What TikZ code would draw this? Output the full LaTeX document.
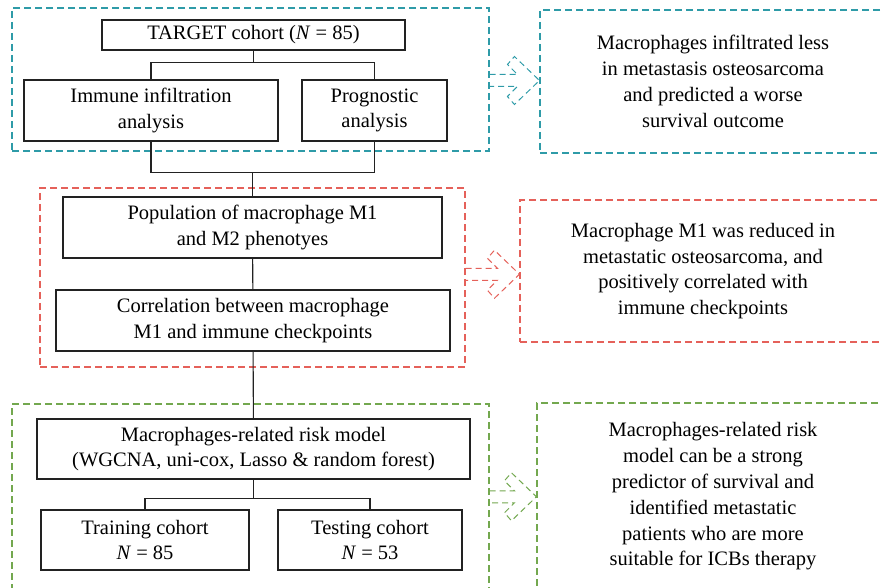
\documentclass[tikz,border=0pt]{standalone}
\usepackage{fontspec}
\setmainfont{Liberation Serif}
\usepackage{xcolor}
\usepackage{tikz}
\usetikzlibrary{calc,positioning}
\definecolor{lagoon}{HTML}{2E9BA8}
\definecolor{coral}{HTML}{E5615A}
\definecolor{moss}{HTML}{73A84F}
\definecolor{ink}{HTML}{222222}
\newcommand{\hollowarrow}[3]{%
  \draw[ha=#3] let \p1=(#1), \p2=(#2), \p3=($(#1)!0.5!(#2)$) in
    (\x1,\y3+6pt) -- (\x2-22pt,\y3+6pt) -- (\x2-32pt,\y3+16pt) -- (\x2-25pt,\y3+24pt) -- (\x2,\y3)
    -- (\x2-25pt,\y3-24pt) -- (\x2-32pt,\y3-16pt) -- (\x2-22pt,\y3-6pt) -- (\x1,\y3-6pt);}

\begin{document}
\begin{tikzpicture}[x=1pt,y=-1pt,font=\fontsize{20.5}{25.8}\selectfont,
   b/.style={draw=ink,line width=1.1pt,align=center,inner sep=0pt},
   fr/.style={draw=#1,dash pattern=on 7pt off 4pt,line width=1.1pt,align=center,inner sep=0pt},
   ln/.style={draw=ink,line width=1.1pt},
   ha/.style={draw=#1,dash pattern=on 6pt off 4pt,line width=1pt,line join=miter}]
  \useasboundingbox (0,0) rectangle (881,588);
  \clip (0,0) rectangle (881,588);
  \node[fr=lagoon,minimum width=477,minimum height=143] (upframe) at (250.5,79.5) {};
  \node[b,minimum width=303,minimum height=30] (target) at (253.5,35) {TARGET cohort (\textit{N}~=~85)};
  \node[b,minimum width=254,minimum height=61] (immune) at (151,110.5) {Immune infiltration\\analysis};
  \node[b,minimum width=145,minimum height=61] (prog) at (374.5,110.5) {Prognostic\\analysis};
  \node[fr=coral,minimum width=425,minimum height=179] (midframe) at (252.5,277.5) {};
  \node[b,minimum width=379,minimum height=61] (pop) at (252.5,227.5) {Population of macrophage M1\\and M2 phenotyes};
  \node[b,minimum width=394,minimum height=61] (corr) at (253,320.5) {Correlation between macrophage\\M1 and immune checkpoints};
  \node[fr=moss,minimum width=477,minimum height=186] (lowframe) at (250.5,497) {};
  \node[b,minimum width=433,minimum height=60] (risk) at (253.5,449) {Macrophages-related risk model\\(WGCNA, uni-cox, Lasso \& random forest)};
  \node[b,minimum width=208,minimum height=60] (train) at (145,540) {Training cohort\\\textit{N}~=~85};
  \node[b,minimum width=184,minimum height=60] (test) at (370,540) {Testing cohort\\\textit{N}~=~53};
  \node[fr=lagoon,minimum width=346,minimum height=143] (upnote) at (713,81.5) {Macrophages infiltrated less\\in metastasis osteosarcoma\\and predicted a worse\\survival outcome};
  \node[fr=coral,minimum width=366,minimum height=142] (midnote) at (703,271) {Macrophage M1 was reduced in\\metastatic osteosarcoma, and\\positively correlated with\\immune checkpoints};
  \node[fr=moss,minimum width=352,minimum height=187] (lownote) at (713,496.5) {Macrophages-related risk\\model can be a strong\\predictor of survival and\\identified metastatic\\patients who are more\\suitable for ICBs therapy};
  \draw[ln] (target.south) -- ++(0,12) coordinate (j1);
  \draw[ln] (immune.north) |- (j1) -| (prog.north);
  \draw[ln] (immune.south) -- ++(0,31) coordinate (j2) -| (prog.south);
  \draw[ln] (pop.north) -- (pop.north |- j2);
  \draw[ln] (pop) -- (corr); \draw[ln] (corr) -- (risk);
  \draw[ln] (risk.south) -- ++(0,19) coordinate (j3);
  \draw[ln] (train.north) |- (j3) -| (test.north);
  \hollowarrow{upframe.east}{upnote.west}{lagoon}
  \hollowarrow{midframe.east}{midnote.west}{coral}
  \hollowarrow{lowframe.east}{lownote.west}{moss}
\end{tikzpicture}
\end{document}
